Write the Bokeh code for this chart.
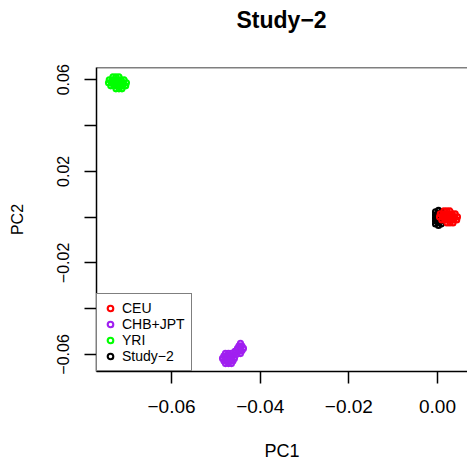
from bokeh.plotting import figure
from bokeh.models import Range1d, FixedTicker, Span, Legend, LegendItem, Title
from bokeh.embed import file_html
from bokeh.resources import INLINE

# ---- data ----
ceu_x = [0.00146, 0.00214, 0.00282,
         0.00062, 0.00129, 0.00197, 0.00265, 0.00333, 0.00400,
         0.00045, 0.00113, 0.00180, 0.00248, 0.00316, 0.00383, 0.00451,
         0.00096, 0.00163, 0.00231, 0.00299, 0.00367, 0.00434,
         0.00214, 0.00282, 0.00350]
ceu_y = [0.00271, 0.00271, 0.00271,
         0.00140, 0.00140, 0.00140, 0.00140, 0.00140, 0.00140,
         0.00009, 0.00009, 0.00009, 0.00009, 0.00009, 0.00009, 0.00009,
         -0.00122, -0.00122, -0.00122, -0.00122, -0.00122, -0.00122,
         -0.00253, -0.00253, -0.00253]

chb_x = [-0.04715, -0.04647, -0.04783, -0.04580, -0.04850,
         -0.04681, -0.04749, -0.04681, -0.04749,
         -0.04613, -0.04817, -0.04613, -0.04817,
         -0.04715, -0.04715, -0.04647, -0.04783, -0.04647, -0.04783,
         -0.04444, -0.04376, -0.04512, -0.04410, -0.04478, -0.04410, -0.04478,
         -0.04444, -0.04444,
         -0.04545, -0.04520, -0.04570]
chb_y = [-0.06173, -0.06173, -0.06173, -0.06173, -0.06173,
         -0.06059, -0.06059, -0.06287, -0.06287,
         -0.06059, -0.06059, -0.06287, -0.06287,
         -0.05946, -0.06400, -0.05946, -0.05946, -0.06400, -0.06400,
         -0.05736, -0.05736, -0.05736, -0.05622, -0.05622, -0.05850, -0.05850,
         -0.05509, -0.05963,
         -0.05920, -0.05990, -0.05860]

yri_x = [-0.07321, -0.07253, -0.07185,
         -0.07405, -0.07338, -0.07270, -0.07202, -0.07134, -0.07067,
         -0.07422, -0.07354, -0.07287, -0.07219, -0.07151, -0.07084, -0.07016,
         -0.07371, -0.07304, -0.07236, -0.07168, -0.07100, -0.07033,
         -0.07253, -0.07185, -0.07117]
yri_y = [0.06128, 0.06128, 0.06128,
         0.05997, 0.05997, 0.05997, 0.05997, 0.05997, 0.05997,
         0.05866, 0.05866, 0.05866, 0.05866, 0.05866, 0.05866, 0.05866,
         0.05735, 0.05735, 0.05735, 0.05735, 0.05735, 0.05735,
         0.05604, 0.05604, 0.05604]

study_x = [0.00023, 0.00023, 0.00023, 0.00023, 0.00023, 0.00023,
           -0.00045, -0.00045, -0.00045, -0.00045, -0.00045,
           0.00091, 0.00091, 0.00091, 0.00091, 0.00091]
study_y = [-0.00363, -0.00232, -0.00101, 0.00031, 0.00162, 0.00293,
           -0.00297, -0.00166, -0.00035, 0.00096, 0.00227,
           -0.00297, -0.00166, -0.00035, 0.00096, 0.00227]

group_names = ["CEU", "CHB+JPT", "YRI", "Study\u22122"]
group_colors = ["#FF0000", "#A020F0", "#00FF00", "#000000"]

x_ticks = [-0.06, -0.04, -0.02, 0.0]
x_tick_labels = ["\u22120.06", "\u22120.04", "\u22120.02", "0.00"]
y_ticks = [-0.06, -0.04, -0.02, 0.0, 0.02, 0.04, 0.06]
y_tick_labels = ["\u22120.06", "", "\u22120.02", "", "0.02", "", "0.06"]

title_text = "Study\u22122"
x_label = "PC1"
y_label = "PC2"

FONT = "Liberation Sans"
X0, X1 = -0.07692, 0.00677
Y0, Y1 = -0.06745, 0.06536

p = figure(width=467, height=467, output_backend="svg", toolbar_location=None,
           x_range=Range1d(X0, X1), y_range=Range1d(Y0, Y1),
           min_border_left=96, min_border_right=0, min_border_top=67, min_border_bottom=96)
p.outline_line_color = None
p.grid.visible = False
p.background_fill_color = "white"
p.border_fill_color = "white"

PT = dict(size=5, fill_color=None, line_width=2.1)
r_study = p.scatter(study_x, study_y, line_color=group_colors[3], **PT)
r_ceu = p.scatter(ceu_x, ceu_y, line_color=group_colors[0], **PT)
r_chb = p.scatter(chb_x, chb_y, line_color=group_colors[1], **PT)
r_yri = p.scatter(yri_x, yri_y, line_color=group_colors[2], **PT)

for ax in (p.xaxis[0], p.yaxis[0]):
    ax.axis_line_width = 1.5
    ax.axis_line_color = "black"
    ax.major_tick_line_width = 1.5
    ax.major_tick_line_color = "black"
    ax.major_tick_in = 0
    ax.major_tick_out = 12
    ax.minor_tick_line_color = None
    ax.major_label_text_font = FONT
    ax.major_label_text_color = "black"
    ax.axis_label_text_font = FONT
    ax.axis_label_text_font_style = "normal"
    ax.axis_label_text_color = "black"

xa = p.xaxis[0]
xa.ticker = FixedTicker(ticks=x_ticks)
xa.major_label_overrides = {t: s for t, s in zip(x_ticks, x_tick_labels)}
xa.major_label_text_font_size = "19px"
xa.major_label_standoff = 16
xa.axis_label = x_label
xa.axis_label_text_font_size = "18px"
xa.axis_label_standoff = 25

ya = p.yaxis[0]
ya.ticker = FixedTicker(ticks=y_ticks)
ya.major_label_overrides = {t: s for t, s in zip(y_ticks, y_tick_labels)}
ya.major_label_orientation = "vertical"
ya.major_label_text_font_size = "16px"
ya.major_label_standoff = 15
ya.axis_label = y_label
ya.axis_label_text_font_size = "16px"
ya.axis_label_standoff = 29

# top edge of the box; its right edge lies outside the picture
p.add_layout(Span(location=Y1, dimension="width", line_color="black", line_width=1.5))

legend = Legend(items=[
    LegendItem(label=group_names[0], renderers=[r_ceu]),
    LegendItem(label=group_names[1], renderers=[r_chb]),
    LegendItem(label=group_names[2], renderers=[r_yri]),
    LegendItem(label=group_names[3], renderers=[r_study]),
], location="bottom_left", margin=0, padding=6, spacing=0,
   glyph_width=14, glyph_height=16, label_height=16, label_standoff=5,
   label_text_font=FONT, label_text_font_size="14px", label_text_color="black",
   border_line_color="black", border_line_width=1.5,
   background_fill_color="white", background_fill_alpha=1.0)
p.add_layout(legend, "center")

# spacer between frame and title, then the title itself
p.add_layout(Title(text=" ", text_font_size="10px", standoff=22), "above")
p.add_layout(Title(text=title_text, text_font=FONT, text_font_style="bold",
                   text_font_size="23px", text_color="black", align="left",
                   offset=140, standoff=0), "above")

open("out.html", "w").write(file_html(p, INLINE))
